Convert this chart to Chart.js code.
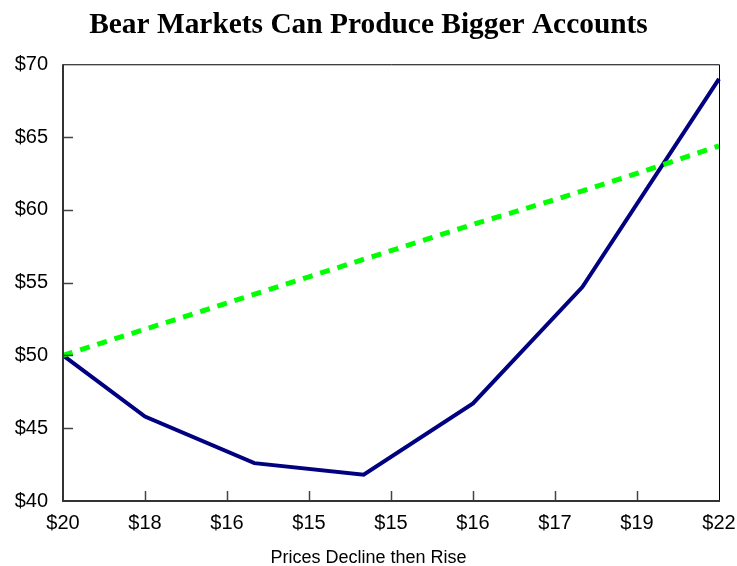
<!DOCTYPE html>
<html>
<head>
<meta charset="utf-8">
<script src="https://cdn.jsdelivr.net/npm/chart.js@4.4.1/dist/chart.umd.min.js"></script>
<style>
  html, body { margin: 0; padding: 0; background: #fff; }
  #wrap { width: 737px; height: 566px; }
</style>
</head>
<body>
<div id="wrap"><canvas id="c" width="737" height="566"></canvas></div>
<script>
// Tick labels along the x axis (share price per period)
const priceLabels = ["$20", "$18", "$16", "$15", "$15", "$16", "$17", "$19", "$22"];
// Positions (in periods) of the tick labels
const labelPositions = [0, 3, 6, 9, 12, 15, 18, 21, 24];

// Bear market account value (blue)
const bearX = [0, 3, 7, 11, 15, 19, 24];
const bearValues = [50.0, 45.8, 42.6, 41.8, 46.7, 54.7, 69.0];

// Steady rise account value (green dashed)
const steadyX = [0, 3, 6, 9, 12, 15, 18, 21, 24];
const steadyValues = [50.0, 51.8, 53.6, 55.4, 57.2, 59.0, 60.7, 62.5, 64.4];

const yTicks = [40, 45, 50, 55, 60, 65, 70];

const toPoints = (xs, ys) => xs.map((x, i) => ({ x: x, y: ys[i] }));

const frame = {
  id: 'frame',
  afterDraw(chart) {
    const ctx = chart.ctx;
    const a = chart.chartArea;
    const xs = chart.scales.x, ys = chart.scales.y;
    ctx.save();
    // inward tick marks
    ctx.strokeStyle = '#444';
    ctx.lineWidth = 1.5;
    ctx.beginPath();
    yTicks.forEach(v => {
      if (v === 40 || v === 70) return;
      const py = Math.round(ys.getPixelForValue(v)) + 0.5;
      ctx.moveTo(a.left, py); ctx.lineTo(a.left + 10, py);
    });
    labelPositions.forEach((v, i) => {
      if (i === 0 || i === labelPositions.length - 1) return;
      const px = Math.round(xs.getPixelForValue(v)) + 0.5;
      ctx.moveTo(px, a.bottom); ctx.lineTo(px, a.bottom - 10);
    });
    ctx.stroke();
    // frame
    ctx.strokeStyle = '#000';
    ctx.lineWidth = 1;
    ctx.beginPath();
    ctx.moveTo(a.left, a.top + 0.5); ctx.lineTo(a.right + 0.5, a.top + 0.5);
    ctx.lineTo(a.right + 0.5, a.bottom);
    ctx.stroke();
    ctx.strokeStyle = '#333';
    ctx.lineWidth = 2;
    ctx.beginPath();
    ctx.moveTo(a.left, a.top); ctx.lineTo(a.left, a.bottom + 1);
    ctx.moveTo(a.left, a.bottom); ctx.lineTo(a.right + 1, a.bottom);
    ctx.stroke();
    ctx.restore();
  }
};

new Chart(document.getElementById('c'), {
  type: 'line',
  data: {
    datasets: [
      {
        label: 'Steady',
        data: toPoints(steadyX, steadyValues),
        borderColor: '#00ff00',
        borderWidth: 5,
        borderDash: [10, 8],
        borderCapStyle: 'butt',
        pointRadius: 0,
        tension: 0,
        fill: false
      },
      {
        label: 'Bear',
        data: toPoints(bearX, bearValues),
        borderColor: '#000080',
        borderWidth: 4,
        pointRadius: 0,
        tension: 0,
        fill: false
      }
    ]
  },
  plugins: [frame],
  options: {
    responsive: false,
    animation: false,
    clip: false,
    layout: { padding: { top: 8, right: 0, left: 0, bottom: 0 } },
    plugins: {
      legend: { display: false },
      tooltip: { enabled: false },
      title: {
        display: true,
        text: 'Bear Markets Can Produce Bigger Accounts',
        color: '#000',
        font: { family: '"Liberation Serif", "Times New Roman", serif', size: 29.4, weight: 'bold', lineHeight: 1.2 },
        padding: { top: 0, bottom: 21 }
      },
      subtitle: {
        display: true,
        position: 'bottom',
        text: 'Prices Decline then Rise',
        color: '#000',
        font: { family: '"Liberation Sans", Arial, sans-serif', size: 18, lineHeight: 0.8, weight: 'normal' },
        padding: { top: 4, bottom: 1 }
      }
    },
    scales: {
      x: {
        type: 'linear',
        min: 0,
        max: 24,
        afterBuildTicks(scale) {
          scale.ticks = labelPositions.map(v => ({ value: v }));
        },
        afterFit(scale) { scale.height = 45.6; scale.paddingLeft = 0; scale.paddingRight = 18; },
        grid: { display: false, drawTicks: false },
        border: { display: false },
        ticks: {
          color: '#000',
          padding: 10,
          maxRotation: 0,
          autoSkip: false,
          font: { family: '"Liberation Sans", Arial, sans-serif', size: 20 },
          callback(value) {
            const i = labelPositions.indexOf(value);
            return i >= 0 ? priceLabels[i] : '';
          }
        }
      },
      y: {
        min: 40,
        max: 70,
        afterBuildTicks(scale) {
          scale.ticks = yTicks.map(v => ({ value: v }));
        },
        afterFit(scale) { scale.width = 63; scale.paddingTop = 0; scale.paddingBottom = 0; },
        grid: { display: false, drawTicks: false },
        border: { display: false },
        ticks: {
          color: '#000',
          padding: 15,
          font: { family: '"Liberation Sans", Arial, sans-serif', size: 20 },
          callback(value) { return '$' + value; }
        }
      }
    }
  }
});
</script>
</body>
</html>
